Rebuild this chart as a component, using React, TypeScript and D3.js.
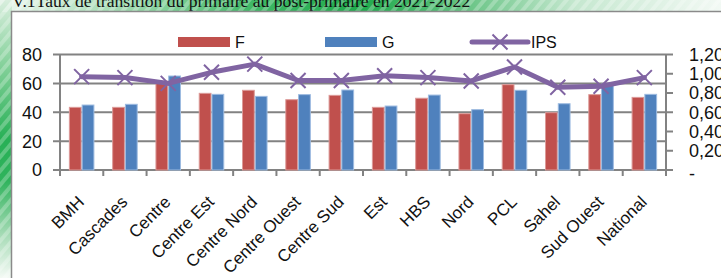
import React, { useEffect, useRef } from "react";
import * as d3 from "d3";

const titleText = "V.1Taux de transition du primaire au post-primaire en 2021-2022";
const categories = [
  "BMH", "Cascades", "Centre", "Centre Est", "Centre Nord", "Centre Ouest", "Centre Sud",
  "Est", "HBS", "Nord", "PCL", "Sahel", "Sud Ouest", "National",
];
const valuesF = [43.4, 43.4, 61.5, 53.1, 55.2, 48.7, 51.7, 43.4, 49.7, 39.0, 59.1, 39.7, 52.2, 50.3];
const valuesG = [45.0, 45.5, 65.1, 52.4, 51.0, 52.2, 55.4, 44.3, 51.9, 41.8, 55.2, 45.9, 59.5, 52.4];
const valuesIPS = [0.97, 0.96, 0.9, 1.015, 1.1, 0.93, 0.93, 0.98, 0.96, 0.925, 1.07, 0.86, 0.87, 0.96];
const seriesNames = ["F", "G", "IPS"];
const leftTicks = [0, 20, 40, 60, 80];
const rightTicks = [0, 0.2, 0.4, 0.6, 0.8, 1.0, 1.2];
const rightTickLabels = ["-", "0,20", "0,40", "0,60", "0,80", "1,00", "1,20"];

const W = 721;
const H = 278;

const App = () => {
  const ref = useRef<SVGSVGElement>(null);

  useEffect(() => {
    const svg = d3.select(ref.current).attr("width", W).attr("height", H);
    svg.selectAll("*").remove();

    const plot = { left: 60, right: 666, top: 54.5, bottom: 170 };
    const font = "'Liberation Sans', Arial, sans-serif";

    const defs = svg.append("defs");
    const gTop = defs.append("linearGradient").attr("id", "gTop");
    [
      [0, "#eef7f0"], [0.18, "#9ad8ab"], [0.35, "#3fb866"], [0.5, "#1faa4c"],
      [0.62, "#58be78"], [0.8, "#c6e8d0"], [1, "#f2f9f4"],
    ].forEach(([o, c]) => gTop.append("stop").attr("offset", o).attr("stop-color", c));
    const gLeft = defs.append("linearGradient").attr("id", "gLeft")
      .attr("x1", 0).attr("y1", 0).attr("x2", 0).attr("y2", 1);
    [
      [0, "#d8eedd"], [0.25, "#7fcf96"], [0.5, "#27b056"], [0.65, "#2fb35c"],
      [0.85, "#a9dcb8"], [1, "#f4faf5"],
    ].forEach(([o, c]) => gLeft.append("stop").attr("offset", o).attr("stop-color", c));
    const pat = defs.append("pattern").attr("id", "stripes")
      .attr("width", 9).attr("height", 9)
      .attr("patternUnits", "userSpaceOnUse")
      .attr("patternTransform", "rotate(40)");
    pat.append("rect").attr("width", 4).attr("height", 9).attr("fill", "#ffffff").attr("opacity", 0.25);

    // page background
    svg.append("rect").attr("width", W).attr("height", 12).attr("fill", "url(#gTop)");
    svg.append("rect").attr("width", 12).attr("height", H).attr("fill", "url(#gLeft)");
    svg.append("rect").attr("width", W).attr("height", 12).attr("fill", "url(#stripes)");
    svg.append("rect").attr("width", 12).attr("height", H).attr("fill", "url(#stripes)");

    svg.append("text")
      .attr("x", 12).attr("y", 7)
      .attr("font-family", "'Liberation Serif', 'Times New Roman', serif")
      .attr("font-size", 17.6)
      .attr("fill", "#111")
      .text(titleText);

    // chart box
    svg.append("rect")
      .attr("x", 11.5).attr("y", 11.5).attr("width", W).attr("height", H)
      .attr("fill", "#fff").attr("stroke", "#8a8a8a").attr("stroke-width", 1.5);

    const x = d3.scaleBand().domain(categories).range([plot.left, plot.right]).padding(0);
    const bw = x.bandwidth();
    const groupW = bw * 0.59;
    const x1 = d3.scaleBand().domain(["F", "G"]).range([(bw - groupW) / 2, (bw + groupW) / 2]);
    const y = d3.scaleLinear().domain([0, 80]).range([plot.bottom, plot.top]);
    const yR = d3.scaleLinear().domain([0, 1.2]).range([plot.bottom, plot.top]);

    const grid = "#828282";

    // gridlines + left ticks
    svg.append("g").selectAll("line").data(leftTicks).join("line")
      .attr("x1", plot.left - 7).attr("x2", plot.right)
      .attr("y1", (d) => y(d)).attr("y2", (d) => y(d))
      .attr("stroke", grid).attr("stroke-width", 2);

    svg.append("g").selectAll("text").data(leftTicks).join("text")
      .attr("x", 42).attr("y", (d) => y(d)).attr("dy", "0.36em")
      .attr("text-anchor", "end")
      .attr("font-family", font).attr("font-size", 18).attr("fill", "#111")
      .text((d) => d);

    // right axis
    svg.append("line")
      .attr("x1", plot.right).attr("x2", plot.right)
      .attr("y1", plot.top).attr("y2", plot.bottom)
      .attr("stroke", grid).attr("stroke-width", 2);
    svg.append("g").selectAll("line").data(rightTicks).join("line")
      .attr("x1", plot.right).attr("x2", plot.right + 7)
      .attr("y1", (d) => yR(d)).attr("y2", (d) => yR(d))
      .attr("stroke", grid).attr("stroke-width", 2);
    svg.append("g").selectAll("text").data(rightTicks).join("text")
      .attr("x", 689).attr("y", (d) => yR(d)).attr("dy", (d, i) => (i === 0 ? "0.55em" : "0.36em"))
      .attr("font-family", font).attr("font-size", 18).attr("fill", "#111")
      .text((d, i) => rightTickLabels[i]);

    // left axis and category ticks
    svg.append("line")
      .attr("x1", plot.left).attr("x2", plot.left)
      .attr("y1", plot.top).attr("y2", plot.bottom + 6)
      .attr("stroke", grid).attr("stroke-width", 2);
    const bounds = categories.map((c) => x(c)!).concat([plot.right]);
    svg.append("g").selectAll("line").data(bounds).join("line")
      .attr("x1", (d) => d).attr("x2", (d) => d)
      .attr("y1", plot.bottom).attr("y2", plot.bottom + 6)
      .attr("stroke", grid).attr("stroke-width", 2);

    // bars
    const series = [
      { key: "F", values: valuesF, fill: "#C0504D", edge: "#dc9a98" },
      { key: "G", values: valuesG, fill: "#4F81BD", edge: "#9dbbe0" },
    ];
    series.forEach((s) => {
      svg.append("g").selectAll("rect").data(categories).join("rect")
        .attr("x", (c) => x(c)! + x1(s.key)! + 0.5)
        .attr("y", (c, i) => y(s.values[i]))
        .attr("width", x1.bandwidth() - 1)
        .attr("height", (c, i) => y(0) - y(s.values[i]))
        .attr("fill", s.fill)
        .attr("stroke", s.edge).attr("stroke-width", 1);
    });

    // IPS line
    const purple = "#8064A2";
    const cx = (c: string) => x(c)! + bw / 2;
    const line = d3.line<number>()
      .x((d, i) => cx(categories[i]))
      .y((d) => yR(d));
    svg.append("path")
      .attr("d", line(valuesIPS))
      .attr("fill", "none").attr("stroke", purple)
      .attr("stroke-width", 5).attr("stroke-linejoin", "round").attr("stroke-linecap", "round");

    const cross = (g: any, px: number, py: number, r: number) => {
      g.append("path")
        .attr("d", `M${px - r},${py - r}L${px + r},${py + r}M${px - r},${py + r}L${px + r},${py - r}`)
        .attr("stroke", purple).attr("stroke-width", 2).attr("fill", "none");
    };
    const marks = svg.append("g");
    valuesIPS.forEach((v, i) => cross(marks, cx(categories[i]), yR(v), 7.5));

    // category labels
    svg.append("g").selectAll("text").data(categories).join("text")
      .attr("transform", (c) => `translate(${cx(c) + 3.5},203) rotate(-45)`)
      .attr("text-anchor", "end")
      .attr("font-family", font).attr("font-size", 17).attr("fill", "#111")
      .text((c) => c);

    // legend
    const lg = svg.append("g").attr("font-family", font).attr("font-size", 16).attr("fill", "#111");
    const legendX = [178, 325, 472];
    lg.append("rect").attr("x", legendX[0]).attr("y", 37).attr("width", 52).attr("height", 10).attr("fill", "#C0504D");
    lg.append("rect").attr("x", legendX[1]).attr("y", 37).attr("width", 52).attr("height", 10).attr("fill", "#4F81BD");
    lg.append("line").attr("x1", legendX[2]).attr("x2", legendX[2] + 56).attr("y1", 42).attr("y2", 42)
      .attr("stroke", purple).attr("stroke-width", 5).attr("stroke-linecap", "round");
    cross(lg, legendX[2] + 28, 42, 7.5);
    lg.selectAll("text").data(seriesNames).join("text")
      .attr("x", (d, i) => legendX[i] + (i === 2 ? 59 : 57))
      .attr("y", 48)
      .text((d) => d);
  }, []);

  return (
    <div style={{ position: "absolute", left: 0, top: 0 }}>
      <svg ref={ref}></svg>
    </div>
  );
};

export default App;
